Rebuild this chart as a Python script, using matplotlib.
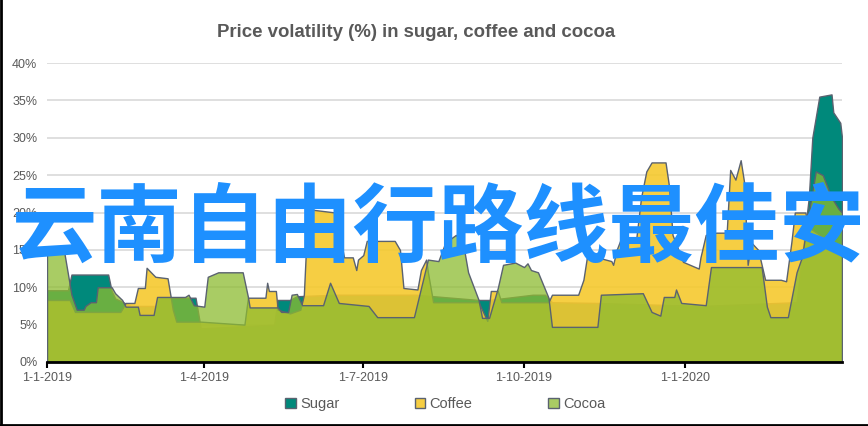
import numpy as np
import pandas as pd
import matplotlib
matplotlib.use('Agg')
import matplotlib.pyplot as plt
from matplotlib.patches import Patch
from matplotlib.lines import Line2D
from matplotlib.colors import to_rgba

#---------- data (days after 1-1-2019, volatility in %)
start = pd.Timestamp('2019-01-01')
end_day = 455

sugar_days = [0, 12, 14, 35, 37, 39, 48, 62, 65, 85, 88, 130, 132, 139, 143, 165, 211, 247, 253,
              278, 285, 289, 315, 374, 429, 434, 436, 438, 442, 449, 450, 454, 455]
sugar_vals = [9.6, 9.6, 11.7, 11.7, 9.5, 8.5, 7.5, 7.5, 8.6, 8.6, 4.5, 5.0, 8.3, 8.3, 8.8, 9.0, 9.0, 8.3, 8.3,
              9.0, 9.0, 8.0, 7.9, 7.5, 8.0, 18.0, 22.0, 30.0, 35.5, 35.8, 33.4, 32.0, 30.0]

coffee_days = [0, 13, 16, 42, 45, 50, 52, 56, 57, 62, 69, 72, 74, 88, 113, 115, 125, 126, 127, 131,
               132, 139, 145, 147, 148, 151, 165, 170, 175, 177, 178, 181, 183, 199, 202, 204, 212, 214,
               217, 218, 221, 247, 252, 254, 258, 260, 287, 289, 304, 307, 309, 315, 323, 324, 326, 330,
               333, 337, 340, 343, 346, 354, 356, 358, 364, 368, 373, 374, 377, 383, 389, 391, 394, 397,
               399, 401, 403, 407, 411, 420, 423, 426, 428, 434, 436, 455]
coffee_vals = [8.3, 8.3, 6.7, 6.7, 7.9, 7.9, 9.9, 9.9, 12.6, 11.4, 11.2, 7.0, 5.4, 5.4, 5.0, 8.6, 8.6, 10.6, 9.5, 9.5,
               7.0, 6.5, 7.0, 9.0, 14.0, 20.4, 20.0, 14.0, 14.0, 12.3, 13.7, 14.3, 16.2, 16.2, 15.0, 9.9, 9.7, 12.3,
               13.7, 12.0, 8.0, 8.0, 5.5, 9.5, 9.5, 8.0, 8.0, 9.0, 9.0, 11.0, 14.0, 14.0, 13.5, 13.0, 15.0, 17.4,
               16.0, 16.0, 22.0, 25.5, 26.7, 26.7, 23.5, 17.0, 13.4, 13.0, 12.5, 14.0, 17.0, 17.3, 17.3, 25.7, 24.4, 27.0,
               24.0, 13.0, 16.0, 15.0, 11.0, 11.0, 10.8, 16.0, 20.0, 20.0, 18.0, 15.0]

cocoa_days = [0, 10, 14, 17, 21, 22, 25, 28, 29, 37, 39, 43, 45, 52, 53, 61, 63, 79, 81, 84, 90, 92, 95, 98,
              112, 115, 116, 132, 134, 138, 140, 143, 146, 158, 162, 167, 184, 189, 210, 218, 224, 228, 234,
              238, 241, 247, 249, 253, 258, 261, 268, 273, 275, 277, 281, 287, 289, 315, 317, 341, 346, 351,
              353, 359, 360, 363, 377, 380, 409, 412, 414, 424, 429, 432, 436, 440, 444, 449, 453, 455]
cocoa_vals = [14.5, 14.5, 9.0, 7.0, 7.0, 7.5, 8.0, 8.0, 10.0, 10.0, 9.2, 8.3, 7.4, 7.4, 6.3, 6.3, 8.7, 8.7, 9.0, 7.6, 7.4, 11.4, 11.7, 12.0,
              12.0, 8.7, 7.3, 7.3, 6.7, 6.7, 9.0, 9.1, 7.6, 7.6, 10.6, 7.9, 7.5, 6.0, 6.0, 13.7, 13.5, 16.0, 17.0,
              16.0, 12.0, 8.3, 5.9, 5.9, 9.9, 13.0, 13.3, 12.7, 13.2, 12.3, 12.0, 8.6, 4.7, 4.7, 9.0, 9.2, 6.7, 6.2,
              8.7, 8.7, 9.7, 7.9, 7.6, 12.7, 12.7, 7.4, 6.0, 6.0, 12.0, 14.0, 20.0, 25.5, 25.0, 22.0, 20.5, 20.0]

tick_days = [0, 90, 181, 273, 365]
series_names = ['Sugar', 'Coffee', 'Cocoa']

#---------- styles
c_sugar = to_rgba('#00897b', 1.0)
c_coffee = to_rgba('#f5c92e', 0.9)
c_cocoa = to_rgba('#8dbc30', 0.75)
edge = '#5a6270'
txt = '#595959'

fig = plt.figure(figsize=(8.68, 4.26), dpi=100)
ax = fig.add_axes([47/868, 64/426, 795/868, 299/426])

def todates(days):
    return [start + pd.Timedelta(days=d) for d in days]

for days, vals, col in [(sugar_days, sugar_vals, c_sugar),
                        (coffee_days, coffee_vals, c_coffee),
                        (cocoa_days, cocoa_vals, c_cocoa)]:
    ax.fill_between(todates(days), vals, 0, facecolor=col, edgecolor=edge, linewidth=1.0, zorder=2)

ax.set_xlim(start, start + pd.Timedelta(days=end_day))
ax.set_ylim(0, 40)
ax.set_yticks(np.arange(0, 41, 5))
ax.set_yticklabels(['%d%%' % v for v in np.arange(0, 41, 5)], fontsize=9, color=txt, family='Liberation Sans')
ax.yaxis.grid(True, color='#d9d9d9', linewidth=1.2)
ax.set_axisbelow(True)
ax.tick_params(axis='y', length=0, pad=7)

tdates = todates(tick_days)
ax.set_xticks(tdates)
ax.set_xticklabels(['%d-%d-%d' % (d.day, d.month, d.year) for d in tdates], fontsize=9, color=txt,
                   family='Liberation Sans')
ax.tick_params(axis='x', direction='out', length=4, width=1.5, color='k', pad=3)

for s in ['left', 'top', 'right']:
    ax.spines[s].set_visible(False)
ax.spines['bottom'].set_linewidth(2)
ax.spines['bottom'].set_color('k')
ax.spines['bottom'].set_zorder(5)

fig.text(0.479, 0.923, 'Price volatility (%) in sugar, coffee and cocoa', fontsize=13.4, fontweight='bold',
         color=txt, family='Liberation Sans', ha='center', va='center')

handles = [Patch(facecolor=c, edgecolor=edge, linewidth=1) for c in [c_sugar, c_coffee, c_cocoa]]
leg = fig.legend(handles, series_names, loc='center', bbox_to_anchor=(0.513, 0.052), ncol=3, frameon=False,
                 handlelength=0.7, handleheight=0.7, handletextpad=0.3, columnspacing=5.2,
                 prop={'family': 'Liberation Sans', 'size': 10.5})
for t in leg.get_texts():
    t.set_color(txt)

# watermark
fig.text(0.505, 0.462, '云南自由行路线最佳安', fontsize=61.5, color='#1e90ff', family='Noto Sans CJK SC',
         fontweight='bold', ha='center', va='center', zorder=10)

# frame
fig.add_artist(Line2D([0.001, 0.001], [0, 1], transform=fig.transFigure, color='k', linewidth=2))
fig.add_artist(Line2D([0, 1], [0.003, 0.003], transform=fig.transFigure, color='k', linewidth=2))

fig.savefig('out.png', dpi=100)
